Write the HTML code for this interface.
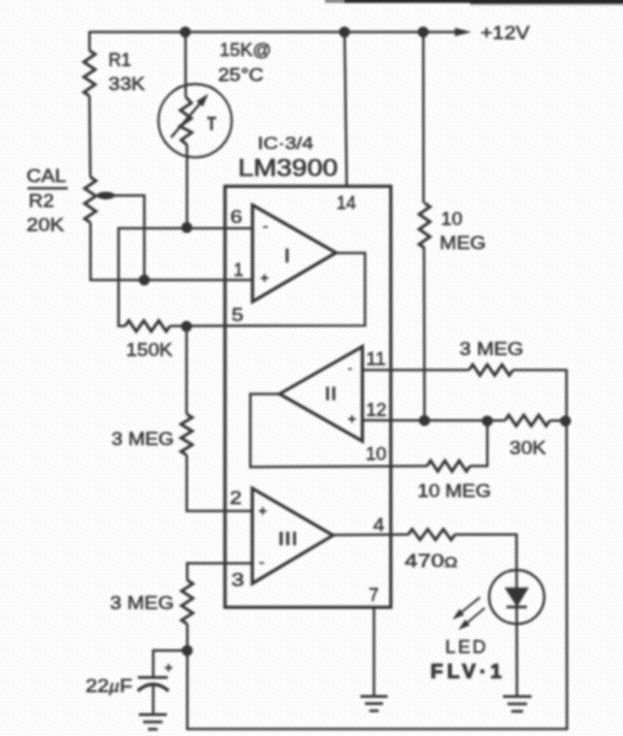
<!DOCTYPE html>
<html lang="en">
<head>
<meta charset="utf-8">
<title>LM3900 temperature indicator schematic</title>
<style>
html,body{margin:0;padding:0;background:#fdfdfd;}
body{width:623px;height:736px;overflow:hidden;}
svg{display:block;}
svg text{font-family:"Liberation Sans",sans-serif;fill:#363636;}
</style>
</head>
<body>
<svg width="623" height="736" viewBox="0 0 623 736">
<defs>
<pattern id="dither" width="32" height="32" patternUnits="userSpaceOnUse"><rect width="32" height="32" fill="#fefefe"/><g fill="#eeeeee" shape-rendering="crispEdges"><rect x="28" y="29" width="1" height="1"/><rect x="28" y="12" width="1" height="1"/><rect x="11" y="30" width="1" height="1"/><rect x="11" y="6" width="1" height="1"/><rect x="28" y="19" width="1" height="1"/><rect x="9" y="5" width="1" height="1"/><rect x="2" y="25" width="1" height="1"/><rect x="0" y="4" width="1" height="1"/><rect x="3" y="2" width="1" height="1"/><rect x="12" y="15" width="1" height="1"/><rect x="1" y="29" width="1" height="1"/><rect x="20" y="28" width="1" height="1"/><rect x="18" y="31" width="1" height="1"/><rect x="29" y="17" width="1" height="1"/><rect x="26" y="5" width="1" height="1"/><rect x="16" y="20" width="1" height="1"/><rect x="14" y="18" width="1" height="1"/><rect x="6" y="25" width="1" height="1"/><rect x="6" y="18" width="1" height="1"/><rect x="24" y="4" width="1" height="1"/><rect x="1" y="0" width="1" height="1"/><rect x="13" y="13" width="1" height="1"/><rect x="3" y="30" width="1" height="1"/><rect x="24" y="25" width="1" height="1"/><rect x="21" y="5" width="1" height="1"/><rect x="19" y="21" width="1" height="1"/><rect x="0" y="26" width="1" height="1"/><rect x="7" y="8" width="1" height="1"/><rect x="15" y="6" width="1" height="1"/><rect x="29" y="31" width="1" height="1"/><rect x="11" y="12" width="1" height="1"/><rect x="8" y="26" width="1" height="1"/><rect x="24" y="7" width="1" height="1"/><rect x="13" y="0" width="1" height="1"/><rect x="1" y="13" width="1" height="1"/><rect x="11" y="25" width="1" height="1"/><rect x="6" y="2" width="1" height="1"/><rect x="9" y="13" width="1" height="1"/><rect x="0" y="21" width="1" height="1"/><rect x="18" y="24" width="1" height="1"/><rect x="4" y="4" width="1" height="1"/><rect x="5" y="13" width="1" height="1"/><rect x="23" y="23" width="1" height="1"/><rect x="29" y="8" width="1" height="1"/><rect x="24" y="11" width="1" height="1"/><rect x="9" y="19" width="1" height="1"/><rect x="12" y="10" width="1" height="1"/><rect x="30" y="5" width="1" height="1"/><rect x="6" y="6" width="1" height="1"/><rect x="2" y="16" width="1" height="1"/><rect x="15" y="25" width="1" height="1"/><rect x="31" y="18" width="1" height="1"/><rect x="17" y="13" width="1" height="1"/><rect x="4" y="17" width="1" height="1"/><rect x="26" y="28" width="1" height="1"/><rect x="15" y="3" width="1" height="1"/><rect x="2" y="11" width="1" height="1"/><rect x="22" y="19" width="1" height="1"/><rect x="20" y="8" width="1" height="1"/><rect x="28" y="23" width="1" height="1"/><rect x="2" y="8" width="1" height="1"/><rect x="21" y="22" width="1" height="1"/><rect x="4" y="26" width="1" height="1"/><rect x="24" y="0" width="1" height="1"/><rect x="1" y="19" width="1" height="1"/><rect x="7" y="31" width="1" height="1"/><rect x="31" y="15" width="1" height="1"/><rect x="20" y="25" width="1" height="1"/><rect x="13" y="24" width="1" height="1"/><rect x="13" y="8" width="1" height="1"/><rect x="22" y="2" width="1" height="1"/><rect x="26" y="24" width="1" height="1"/><rect x="17" y="2" width="1" height="1"/><rect x="17" y="22" width="1" height="1"/><rect x="19" y="1" width="1" height="1"/><rect x="15" y="9" width="1" height="1"/><rect x="28" y="6" width="1" height="1"/><rect x="30" y="2" width="1" height="1"/><rect x="20" y="13" width="1" height="1"/><rect x="10" y="16" width="1" height="1"/><rect x="31" y="12" width="1" height="1"/><rect x="29" y="26" width="1" height="1"/><rect x="25" y="17" width="1" height="1"/><rect x="15" y="30" width="1" height="1"/><rect x="30" y="20" width="1" height="1"/><rect x="26" y="1" width="1" height="1"/><rect x="22" y="15" width="1" height="1"/><rect x="31" y="7" width="1" height="1"/><rect x="8" y="15" width="1" height="1"/><rect x="26" y="8" width="1" height="1"/><rect x="1" y="6" width="1" height="1"/><rect x="12" y="22" width="1" height="1"/><rect x="8" y="29" width="1" height="1"/><rect x="22" y="27" width="1" height="1"/><rect x="16" y="17" width="1" height="1"/><rect x="25" y="13" width="1" height="1"/><rect x="3" y="14" width="1" height="1"/><rect x="16" y="28" width="1" height="1"/><rect x="30" y="10" width="1" height="1"/><rect x="18" y="18" width="1" height="1"/><rect x="3" y="20" width="1" height="1"/><rect x="22" y="9" width="1" height="1"/><rect x="7" y="23" width="1" height="1"/><rect x="12" y="2" width="1" height="1"/><rect x="23" y="30" width="1" height="1"/><rect x="21" y="31" width="1" height="1"/><rect x="13" y="28" width="1" height="1"/><rect x="27" y="16" width="1" height="1"/><rect x="18" y="9" width="1" height="1"/><rect x="7" y="20" width="1" height="1"/><rect x="1" y="23" width="1" height="1"/><rect x="5" y="29" width="1" height="1"/><rect x="5" y="21" width="1" height="1"/><rect x="25" y="22" width="1" height="1"/><rect x="4" y="23" width="1" height="1"/><rect x="6" y="10" width="1" height="1"/><rect x="10" y="21" width="1" height="1"/><rect x="20" y="3" width="1" height="1"/><rect x="18" y="27" width="1" height="1"/><rect x="24" y="20" width="1" height="1"/><rect x="7" y="4" width="1" height="1"/><rect x="20" y="17" width="1" height="1"/><rect x="9" y="1" width="1" height="1"/><rect x="21" y="11" width="1" height="1"/><rect x="30" y="28" width="1" height="1"/><rect x="31" y="24" width="1" height="1"/><rect x="16" y="11" width="1" height="1"/><rect x="15" y="15" width="1" height="1"/><rect x="4" y="0" width="1" height="1"/><rect x="0" y="9" width="1" height="1"/><rect x="9" y="24" width="1" height="1"/><rect x="13" y="20" width="1" height="1"/><rect x="13" y="5" width="1" height="1"/><rect x="27" y="21" width="1" height="1"/><rect x="18" y="6" width="1" height="1"/></g></pattern>
<filter id="soft" filterUnits="userSpaceOnUse" x="-20" y="-20" width="680" height="790"><feGaussianBlur stdDeviation="0.9"/></filter>
</defs>
<rect width="623" height="736" fill="url(#dither)"/>
<g filter="url(#soft)" fill="none" stroke="#363636" stroke-linecap="butt" stroke-linejoin="miter">
<path d="M89.5,32.0 L458.0,32.0" stroke-width="2.5" />
<polygon points="471.3,32.0 454.8,36.3 454.8,27.7" fill="#363636" stroke="none"/>
<rect x="325" y="-6" width="20" height="8.9" fill="#8a8a8a" stroke="none"/>
<rect x="344" y="-6" width="300" height="8.9" fill="#262626" stroke="none"/><rect x="470" y="-6" width="180" height="10.2" fill="#262626" stroke="none"/>
<rect x="470" y="4.2" width="180" height="1.0" fill="#a0a0a0" stroke="none"/>
<path d="M89.5,31.0 L89.5,50.5" stroke-width="2.5" />
<path d="M89.5,50.5 L95.1,54.3 L83.9,61.9 L95.1,69.5 L83.9,77.0 L95.1,84.6 L83.9,92.2 L89.5,96.0" stroke-width="3.0" />
<path d="M89.5,96.0 L90.3,177.0" stroke-width="2.5" />
<path d="M90.3,177.0 L95.9,180.8 L84.7,188.4 L95.9,196.0 L84.7,203.6 L95.9,211.2 L84.7,218.8 L90.3,222.6" stroke-width="3.0" />
<path d="M90.5,222.6 L90.5,280.0 L252.0,280.0" stroke-width="2.5" />
<path d="M97.0,195.5 L144.3,195.5 L144.3,280.0" stroke-width="2.5" />
<ellipse cx="105.8" cy="195.6" rx="9.3" ry="3.9" fill="#363636" stroke="none"/>
<circle cx="144.3" cy="280" r="5.5" fill="#363636" stroke="none"/>
<path d="M185.5,32.0 L185.7,96.7" stroke-width="2.5" />
<path d="M185.7,96.7 L191.3,103.0 L180.4,110.3 L191.3,118.3 L180.0,126.4 L191.8,132.5 L181.2,140.0 L187.0,144.8" stroke-width="3.0" />
<path d="M187.0,144.8 L187.0,227.0" stroke-width="2.5" />
<circle cx="195.1" cy="120.7" r="36.7" fill="none" stroke-width="2.3"/>
<path d="M171.0,137.5 L202.0,101.2" stroke-width="2.5" />
<polygon points="208.3,93.8 202.8,106.8 196.3,101.3" fill="#363636" stroke="none"/>
<circle cx="185.3" cy="32" r="5.5" fill="#363636" stroke="none"/>
<circle cx="186.8" cy="227.5" r="5.5" fill="#363636" stroke="none"/>
<path d="M252.0,228.2 L118.6,228.2 L118.6,326.0 L125.0,326.0" stroke-width="2.5" />
<path d="M125.0,326.0 L128.8,320.7 L136.2,331.3 L143.8,320.7 L151.2,331.3 L158.8,320.7 L166.2,331.3 L170.0,326.0" stroke-width="3.0" />
<path d="M170.0,326.0 L365.0,325.5 L365.0,253.0 L335.0,253.0" stroke-width="2.5" />
<circle cx="186.5" cy="326.3" r="5.5" fill="#363636" stroke="none"/>
<path d="M186.6,326.0 L186.6,414.0" stroke-width="2.5" />
<path d="M186.6,414.0 L192.2,417.4 L181.0,424.2 L192.2,431.1 L181.0,437.9 L192.2,444.8 L181.0,451.6 L186.6,455.0" stroke-width="3.0" />
<path d="M186.8,455.0 L186.8,511.0 L252.0,511.0" stroke-width="2.5" />
<path d="M252.0,563.3 L187.2,563.3 L187.2,580.0" stroke-width="2.5" />
<path d="M187.2,580.0 L192.8,583.7 L181.6,591.0 L192.8,598.3 L181.6,605.7 L192.8,613.0 L181.6,620.3 L187.2,624.0" stroke-width="3.0" />
<path d="M187.3,624.0 L187.3,729.0 L567.0,729.0 L566.5,370.0 L513.0,370.0" stroke-width="2.5" />
<path d="M469.0,370.0 L472.7,364.7 L480.0,375.3 L487.3,364.7 L494.7,375.3 L502.0,364.7 L509.3,375.3 L513.0,370.0" stroke-width="3.0" />
<path d="M469.0,370.0 L362.0,370.0" stroke-width="2.5" />
<circle cx="187.2" cy="650.5" r="5.5" fill="#363636" stroke="none"/>
<path d="M187.0,650.5 L153.2,650.5 L153.2,677.4" stroke-width="2.5" />
<path d="M137.8,677.4 L167.7,677.4" stroke-width="2.8" />
<path d="M137.8,691 Q153,677.5 168.6,691" fill="none" stroke-width="3.3"/>
<path d="M153.2,684.5 L153.2,714.6" stroke-width="2.5" />
<path d="M138.8,714.6 L166.8,714.6" stroke-width="2.8" />
<path d="M143.2,721.9 L162.5,721.9" stroke-width="2.8" />
<path d="M148.0,729.2 L157.6,729.2" stroke-width="2.8" />
<path d="M164.8,667.8 L172.4,667.8" stroke-width="1.9" />
<path d="M168.6,664.0 L168.6,671.6" stroke-width="1.9" />
<path d="M344.6,32.0 L346.7,186.0" stroke-width="2.5" />
<circle cx="344.5" cy="32" r="5.5" fill="#363636" stroke="none"/>
<path d="M423.3,32.0 L423.5,203.0" stroke-width="2.5" />
<path d="M424.6,203.0 L430.0,206.8 L419.2,214.2 L430.0,221.8 L419.2,229.2 L430.0,236.8 L419.2,244.2 L424.6,248.0" stroke-width="3.0" />
<path d="M424.0,248.0 L424.5,420.0" stroke-width="2.5" />
<circle cx="423.2" cy="32" r="5.5" fill="#363636" stroke="none"/>
<circle cx="424.5" cy="420.5" r="5.5" fill="#363636" stroke="none"/>
<path d="M362.0,420.3 L505.0,420.5" stroke-width="2.5" />
<path d="M505.0,420.5 L508.8,415.2 L516.2,425.8 L523.8,415.2 L531.2,425.8 L538.8,415.2 L546.2,425.8 L550.0,420.5" stroke-width="3.0" />
<path d="M550.0,420.5 L566.0,420.8" stroke-width="2.5" />
<circle cx="487.3" cy="421" r="5.5" fill="#363636" stroke="none"/>
<circle cx="565.5" cy="421" r="5.5" fill="#363636" stroke="none"/>
<path d="M487.3,421.0 L487.3,466.0 L470.0,466.0" stroke-width="2.5" />
<path d="M427.0,466.0 L430.6,460.7 L437.8,471.3 L444.9,460.7 L452.1,471.3 L459.2,460.7 L466.4,471.3 L470.0,466.0" stroke-width="3.0" />
<path d="M427.0,466.0 L250.3,467.0 L250.3,394.0 L281.0,394.0" stroke-width="2.5" />
<path d="M332.0,535.0 L408.3,534.5" stroke-width="2.5" />
<path d="M408.3,534.5 L412.2,529.2 L420.0,539.8 L427.8,529.2 L435.5,539.8 L443.3,529.2 L451.1,539.8 L455.0,534.5" stroke-width="3.0" />
<path d="M455.0,534.5 L516.5,534.5 L517.0,696.5" stroke-width="2.5" />
<ellipse cx="516.7" cy="597" rx="27.6" ry="26.9" fill="none" stroke-width="2.5"/>
<polygon points="504.5,587.4 528.8,587.4 517,607" fill="#363636" stroke="none"/>
<path d="M506.5,607.0 L526.9,607.0" stroke-width="2.8" />
<path d="M503.0,696.5 L531.5,696.5" stroke-width="2.8" />
<path d="M507.5,703.9 L527.1,703.9" stroke-width="2.8" />
<path d="M511.4,711.3 L523.1,711.3" stroke-width="2.8" />
<path d="M480.0,597.4 L458.0,615.0" stroke-width="2" />
<polygon points="452.5,619.5 459.5,609.1 464.2,614.9" fill="#363636" stroke="none"/>
<path d="M484.7,608.0 L464.0,625.5" stroke-width="2" />
<polygon points="458.3,630.0 465.1,619.4 469.9,625.2" fill="#363636" stroke="none"/>
<path d="M374.0,608.0 L374.0,696.4" stroke-width="2.5" />
<path d="M360.4,696.4 L387.6,696.4" stroke-width="2.8" />
<path d="M365.0,703.6 L383.0,703.6" stroke-width="2.8" />
<path d="M369.4,710.8 L378.6,710.8" stroke-width="2.8" />
<rect x="225" y="186.3" width="165.8" height="421" fill="none" stroke-width="3.3"/>
<polygon points="252.5,205 252.5,301.7 336,252.7" fill="none" stroke-width="3.3" stroke-linejoin="miter"/>
<polygon points="362.4,346.6 362.4,441.2 279.6,393.9" fill="none" stroke-width="3.3"/>
<polygon points="252.3,488.3 252.3,583.5 333,535.3" fill="none" stroke-width="3.3"/>
<path d="M263.0,227.0 L268.0,227.0" stroke-width="1.6" />
<path d="M260.7,278.0 L268.3,278.0" stroke-width="1.9" />
<path d="M264.5,274.2 L264.5,281.8" stroke-width="1.9" />
<path d="M348.2,369.0 L351.8,369.0" stroke-width="1.6" />
<path d="M348.2,419.0 L355.8,419.0" stroke-width="1.9" />
<path d="M352.0,415.2 L352.0,422.8" stroke-width="1.9" />
<path d="M258.9,511.0 L266.5,511.0" stroke-width="1.9" />
<path d="M262.7,507.2 L262.7,514.8" stroke-width="1.9" />
<path d="M259.2,563.0 L264.2,563.0" stroke-width="1.6" />
<text x="108.5" y="65.7" font-size="18.8" font-weight="400" textLength="22.5" lengthAdjust="spacingAndGlyphs" stroke="#363636" stroke-width="0.55">R1</text>
<text x="108.5" y="89.7" font-size="18.8" font-weight="400" textLength="36.5" lengthAdjust="spacingAndGlyphs" stroke="#363636" stroke-width="0.55">33K</text>
<text x="219.5" y="55.7" font-size="18.8" font-weight="400" textLength="52" lengthAdjust="spacingAndGlyphs" stroke="#363636" stroke-width="0.55">15K@</text>
<text x="218" y="80.7" font-size="18.8" font-weight="400" textLength="45.5" lengthAdjust="spacingAndGlyphs" stroke="#363636" stroke-width="0.55">25°C</text>
<text x="480.5" y="38.7" font-size="18.8" font-weight="400" textLength="49" lengthAdjust="spacingAndGlyphs" stroke="#363636" stroke-width="0.55">+12V</text>
<text x="26.5" y="182.39999999999998" font-size="18.8" font-weight="400" textLength="39.5" lengthAdjust="spacingAndGlyphs" stroke="#363636" stroke-width="0.55">CAL</text>
<text x="28.5" y="207.39999999999998" font-size="18.8" font-weight="400" textLength="25.5" lengthAdjust="spacingAndGlyphs" stroke="#363636" stroke-width="0.55">R2</text>
<text x="26.5" y="230.7" font-size="18.8" font-weight="400" textLength="37.5" lengthAdjust="spacingAndGlyphs" stroke="#363636" stroke-width="0.55">20K</text>
<text x="336.5" y="209.0" font-size="18.8" font-weight="400" textLength="19.5" lengthAdjust="spacingAndGlyphs" stroke="#363636" stroke-width="0.55">14</text>
<text x="230.2" y="223.39999999999998" font-size="18.8" font-weight="400" textLength="12" lengthAdjust="spacingAndGlyphs" stroke="#363636" stroke-width="0.55">6</text>
<text x="233.5" y="275.7" font-size="18.8" font-weight="400" textLength="10" lengthAdjust="spacingAndGlyphs" stroke="#363636" stroke-width="0.55">1</text>
<text x="231.5" y="321.4" font-size="18.8" font-weight="400" textLength="12" lengthAdjust="spacingAndGlyphs" stroke="#363636" stroke-width="0.55">5</text>
<text x="441" y="225.0" font-size="18.8" font-weight="400" textLength="21.5" lengthAdjust="spacingAndGlyphs" stroke="#363636" stroke-width="0.55">10</text>
<text x="439.5" y="249.0" font-size="18.8" font-weight="400" textLength="46.5" lengthAdjust="spacingAndGlyphs" stroke="#363636" stroke-width="0.55">MEG</text>
<text x="459.5" y="355.0" font-size="18.8" font-weight="400" textLength="64" lengthAdjust="spacingAndGlyphs" stroke="#363636" stroke-width="0.55">3 MEG</text>
<text x="126" y="355.7" font-size="18.8" font-weight="400" textLength="46.5" lengthAdjust="spacingAndGlyphs" stroke="#363636" stroke-width="0.55">150K</text>
<text x="111.5" y="444.7" font-size="18.8" font-weight="400" textLength="62.5" lengthAdjust="spacingAndGlyphs" stroke="#363636" stroke-width="0.55">3 MEG</text>
<text x="366" y="365.3" font-size="18.8" font-weight="400" textLength="20" lengthAdjust="spacingAndGlyphs" stroke="#363636" stroke-width="0.55">11</text>
<text x="366" y="416.3" font-size="18.8" font-weight="400" textLength="20.5" lengthAdjust="spacingAndGlyphs" stroke="#363636" stroke-width="0.55">12</text>
<text x="365.5" y="459.9" font-size="18.8" font-weight="400" textLength="21" lengthAdjust="spacingAndGlyphs" stroke="#363636" stroke-width="0.55">10</text>
<text x="509.5" y="454.0" font-size="18.8" font-weight="400" textLength="36.5" lengthAdjust="spacingAndGlyphs" stroke="#363636" stroke-width="0.55">30K</text>
<text x="417.5" y="496.7" font-size="18.8" font-weight="400" textLength="73.5" lengthAdjust="spacingAndGlyphs" stroke="#363636" stroke-width="0.55">10 MEG</text>
<text x="229.7" y="504.0" font-size="18.8" font-weight="400" textLength="12" lengthAdjust="spacingAndGlyphs" stroke="#363636" stroke-width="0.55">2</text>
<text x="231.2" y="585.7" font-size="18.8" font-weight="400" textLength="13" lengthAdjust="spacingAndGlyphs" stroke="#363636" stroke-width="0.55">3</text>
<text x="110" y="608.5" font-size="18.8" font-weight="400" textLength="64" lengthAdjust="spacingAndGlyphs" stroke="#363636" stroke-width="0.55">3 MEG</text>
<text x="373" y="530.7" font-size="18.8" font-weight="400" textLength="11.5" lengthAdjust="spacingAndGlyphs" stroke="#363636" stroke-width="0.55">4</text>
<text x="368.7" y="600.7" font-size="18.8" font-weight="400" textLength="10" lengthAdjust="spacingAndGlyphs" stroke="#363636" stroke-width="0.55">7</text>
<text x="404.5" y="566.7" font-size="18.8" font-weight="400" textLength="53" lengthAdjust="spacingAndGlyphs" stroke="#363636" stroke-width="0.55">470<tspan font-size="14">Ω</tspan></text>
<text x="85.5" y="691.6" font-size="18.8" font-weight="400" textLength="47" lengthAdjust="spacingAndGlyphs" stroke="#363636" stroke-width="0.55">22<tspan font-style="italic" font-size="16">µ</tspan>F</text>
<text x="257.5" y="149" font-size="17" font-weight="400" textLength="56" lengthAdjust="spacingAndGlyphs" stroke="#363636" stroke-width="0.55">IC·3/4</text>
<text x="238" y="176" font-size="23" font-weight="400" textLength="100" lengthAdjust="spacingAndGlyphs" stroke="#363636" stroke-width="0.7">LM3900</text>
<text x="430.5" y="678" font-size="20.5" font-weight="700" textLength="71.2" lengthAdjust="spacing" >FLV·1</text>
<text x="445.3" y="652.8" font-size="18.5" font-weight="400" textLength="40.6" lengthAdjust="spacing" stroke="#363636" stroke-width="0.55">LED</text>
<text x="207.3" y="129.9" font-size="17.5" font-weight="700" textLength="8.8" lengthAdjust="spacingAndGlyphs" stroke="#363636" stroke-width="0.55">T</text>
<text x="284.6" y="261.7" font-size="18.5" font-weight="400" textLength="5.2" lengthAdjust="spacingAndGlyphs" stroke="#303030" stroke-width="1.1">I</text>
<text x="324.5" y="400" font-size="18.5" font-weight="400" textLength="12.5" lengthAdjust="spacingAndGlyphs" stroke="#363636" stroke-width="0.55">II</text>
<text x="277.8" y="545" font-size="18.5" font-weight="400" textLength="20" lengthAdjust="spacingAndGlyphs" stroke="#363636" stroke-width="0.55">III</text>
<path d="M27.5,188.2 L67.8,188.2" stroke-width="2.6" />
</g>
</svg>
</body>
</html>
